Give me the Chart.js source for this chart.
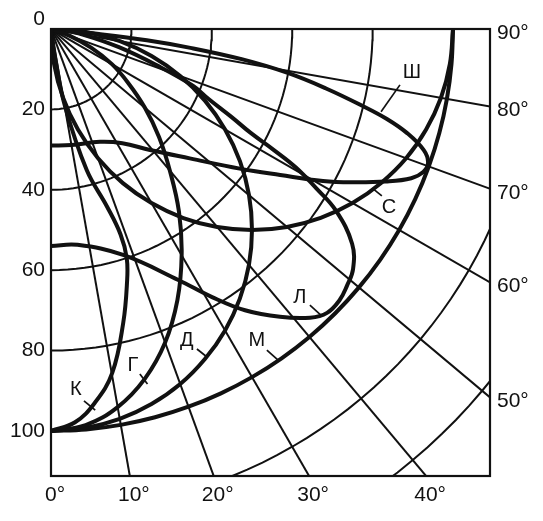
<!DOCTYPE html>
<html>
<head>
<meta charset="utf-8">
<script src="https://cdn.jsdelivr.net/npm/chart.js@4.4.1/dist/chart.umd.min.js"></script>
<style>
  body { margin: 0; background: #fff; }
  #box { width: 543px; height: 521px; }
</style>
</head>
<body>
<div id="box"><canvas id="chart"></canvas></div>
<script>
// axis labels
const leftTicks = [0, 20, 40, 60, 80, 100];
const bottomAngles = [0, 10, 20, 30, 40];
const rightAngles = [90, 80, 70, 60, 50];

// polar grid
const gridRadii = [20, 40, 60, 80, 100, 120, 140];
const gridAngles = [10, 20, 30, 40, 50, 60, 70, 80];

// curves: angle from nadir (deg) and intensity
const step5 = [0, 5, 10, 15, 20, 25, 30, 35, 40, 45, 50, 55, 60, 65, 70, 75, 80, 85, 90];

const kAngles = [0, 3.5, 6.7, 10.1, 13.8, 16.7, 18.3, 18.7, 17.5, 14.2, 10.3, 8.5, 8];
const kValues = [100, 98, 93.6, 86.9, 75.3, 65.8, 60, 53.9, 46.3, 36.2, 19.6, 8.1, 0];

const gAngles = [0, 5, 10, 15, 20, 25, 30, 35, 40, 45, 50, 55, 60, 65, 70, 75];
const gValues = [100, 98.9, 95.5, 90.1, 83, 74.4, 65, 55.5, 46, 38, 30.5, 23.5, 17.5, 11, 5, 0];

const dValues = [100, 99.6, 98.5, 96.6, 94, 90.6, 86.6, 81.9, 76.6, 70.7, 64.3, 57.4, 50, 42.3, 34.2, 25.9, 17.4, 8.7, 0];
const sValues = [0, 8.7, 17.4, 25.9, 34.2, 42.3, 50, 57.4, 64.3, 70.7, 76.6, 81.9, 86.6, 90.6, 94, 96.6, 98.5, 99.6, 100];
const mValues = [100, 100, 100, 100, 100, 100, 100, 100, 100, 100, 100, 100, 100, 100, 100, 100, 100, 100, 100];

const lAngles = [0, 7, 17.7, 26.9, 31, 34.6, 38.5, 41.9, 44.2, 46.8, 49, 51.5, 54.5, 57.5, 59, 60.5, 61.5, 62.5, 64, 66, 68.2, 71, 75, 80, 86, 90];
const lValues = [54, 54.1, 59, 70, 77.8, 85, 91.5, 96.5, 98.5, 98.5, 97.5, 96, 92, 84, 77, 70, 63, 56, 50, 43, 38, 28, 17.5, 8, 2, 0];

const shAngles = [0, 10, 23.5, 32, 39.3, 47, 53.5, 57.5, 60.8, 63, 65.5, 67.5, 69, 70.5, 72, 73.7, 75, 76.1, 77.8, 79.5, 81, 82.3, 83.3, 84, 84.5];
const shValues = [29, 29.3, 30.6, 33.5, 38.9, 47.2, 58.4, 67.6, 77.5, 84, 91.5, 97, 99.2, 99.5, 97.5, 92.3, 86.5, 80, 70, 59.7, 48, 35, 24, 12, 0];

const xMax = 109.2;
const yMax = 111.2;

function toXY(angles, values) {
  return angles.map((a, i) => ({
    x: values[i] * Math.sin(a * Math.PI / 180),
    y: values[i] * Math.cos(a * Math.PI / 180)
  }));
}

let datasets = [];

function curve(name, angles, values) {
  datasets.push({
    label: name,
    data: toXY(angles, values),
    showLine: true,
    borderColor: '#111',
    borderWidth: 4,
    pointRadius: 0,
    tension: 0.4,
    order: 1
  });
}

curve('К', kAngles, kValues);
curve('Г', gAngles, gValues);
curve('Д', step5, dValues);
curve('М', step5, mValues);
curve('С', step5, sValues);
curve('Л', lAngles, lValues);
curve('Ш', shAngles, shValues);

// grid arcs and rays
let arcSteps = [];
for (let a = 0; a <= 90; a += 2) arcSteps.push(a);
gridRadii.forEach(r => {
  datasets.push({
    data: toXY(arcSteps, arcSteps.map(() => r)),
    showLine: true, borderColor: '#111', borderWidth: 2, pointRadius: 0, order: 2
  });
});
gridAngles.forEach(a => {
  datasets.push({
    data: toXY([a, a], [0, 170]),
    showLine: true, borderColor: '#111', borderWidth: 2, pointRadius: 0, order: 2
  });
});

// curve labels with leader lines (data units)
const notes = [
  { text: 'К', at: [6.2, 89.8], from: [8.2, 92.5], to: [11.0, 94.8] },
  { text: 'Г', at: [20.4, 83.6], from: [22.1, 85.8], to: [24.0, 88.3] },
  { text: 'Д', at: [33.8, 77.4], from: [36.3, 79.6], to: [38.8, 81.6] },
  { text: 'М', at: [51.2, 77.6], from: [53.7, 79.9], to: [56.5, 82.4] },
  { text: 'Л', at: [61.9, 66.7], from: [64.4, 68.7], to: [67.4, 71.4] },
  { text: 'Ш', at: [89.8, 10.9], from: [86.8, 13.9], to: [82.1, 20.6] },
  { text: 'С', at: [84.1, 44.3], from: [82.3, 41.5], to: [79.9, 39.6] }
];

const frameAndNotes = {
  id: 'frameAndNotes',
  afterDatasetsDraw(chart) {
    const ctx = chart.ctx;
    const xs = chart.scales.x, ys = chart.scales.y;
    const a = chart.chartArea;
    ctx.save();
    ctx.strokeStyle = '#111';
    ctx.lineWidth = 2.2;
    ctx.strokeRect(a.left, a.top, a.right - a.left, a.bottom - a.top);
    ctx.lineWidth = 1.7;
    ctx.fillStyle = '#111';
    ctx.font = '20px "Liberation Sans", Arial, sans-serif';
    ctx.textAlign = 'center';
    ctx.textBaseline = 'middle';
    notes.forEach(n => {
      ctx.beginPath();
      ctx.moveTo(xs.getPixelForValue(n.from[0]), ys.getPixelForValue(n.from[1]));
      ctx.lineTo(xs.getPixelForValue(n.to[0]), ys.getPixelForValue(n.to[1]));
      ctx.stroke();
      ctx.fillText(n.text, xs.getPixelForValue(n.at[0]), ys.getPixelForValue(n.at[1]));
    });
    ctx.restore();
  }
};

Chart.defaults.color = '#111';
Chart.defaults.font.family = '"Liberation Sans", Arial, sans-serif';

let chartId = document.getElementById('chart');
let polarChart = new Chart(chartId, {
  type: 'scatter',
  data: { datasets: datasets },
  plugins: [frameAndNotes],
  options: {
    responsive: true,
    maintainAspectRatio: false,
    animation: false,
    layout: { padding: { top: 29, left: 0, right: 0, bottom: 0 } },
    scales: {
      x: {
        type: 'linear',
        min: 0,
        max: xMax,
        grid: { display: false, drawTicks: false },
        border: { display: false },
        afterBuildTicks: scale => {
          scale.ticks = bottomAngles.map(a => ({ value: yMax * Math.tan(a * Math.PI / 180) }));
        },
        afterFit: scale => { scale.height = 45; },
        ticks: {
          autoSkip: false,
          maxRotation: 0,
          padding: 7,
          labelOffset: 4,
          font: { size: 21 },
          callback: (value, index) => bottomAngles[index] + '°'
        }
      },
      y: {
        type: 'linear',
        position: 'left',
        reverse: true,
        min: 0,
        max: yMax,
        grid: { display: false, drawTicks: false },
        border: { display: false },
        afterBuildTicks: scale => {
          scale.ticks = leftTicks.map(v => ({ value: v }));
        },
        afterFit: scale => { scale.width = 51; },
        ticks: {
          autoSkip: false,
          padding: 6,
          font: { size: 21, lineHeight: 0.9 },
          callback: (value, index) => index === 0 ? [String(leftTicks[index]), ''] : String(leftTicks[index])
        }
      },
      y2: {
        type: 'linear',
        position: 'right',
        reverse: true,
        min: 0,
        max: yMax,
        grid: { display: false, drawTicks: false },
        border: { display: false },
        afterBuildTicks: scale => {
          scale.ticks = rightAngles.map(a => ({ value: xMax * Math.tan((90 - a) * Math.PI / 180) }));
        },
        afterFit: scale => { scale.width = 53; },
        ticks: {
          autoSkip: false,
          padding: 7,
          labelOffset: 4,
          font: { size: 21 },
          callback: (value, index) => rightAngles[index] + '°'
        }
      }
    },
    plugins: {
      legend: { display: false },
      tooltip: { enabled: false }
    }
  }
});
</script>
</body>
</html>
